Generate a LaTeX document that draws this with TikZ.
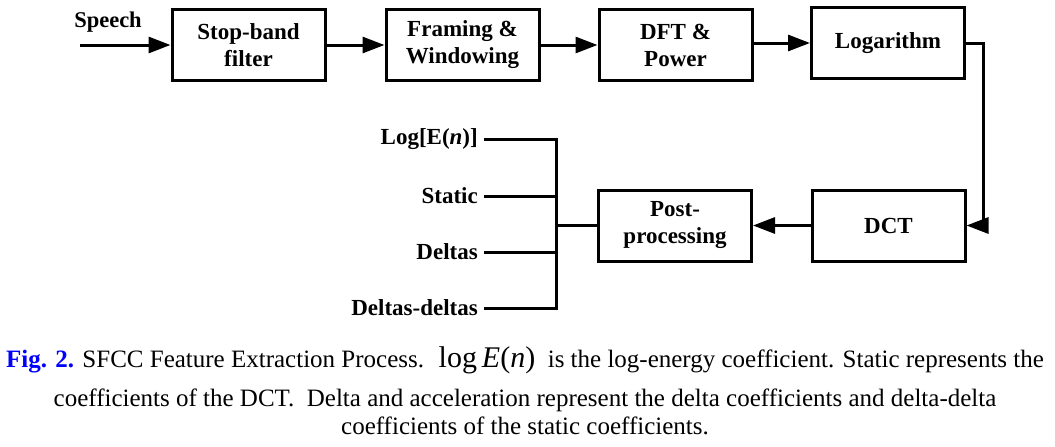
\documentclass[tikz,border=0pt]{standalone}
\usepackage{fontspec}
\setmainfont{Liberation Serif}
\usetikzlibrary{arrows.meta}
\definecolor{figblue}{RGB}{0,0,255}
\tikzset{
  blk/.style={draw, line width=3pt, minimum width=153pt, minimum height=71pt, align=center,
              font=\fontsize{23}{27}\selectfont\bfseries, inner sep=0pt},
  wire/.style={line width=3pt, line join=miter},
  arr/.style={wire, -{Triangle[length=22pt,width=16pt]}},
  lab/.style={font=\fontsize{23}{27}\selectfont\bfseries, inner sep=0pt, anchor=east},
  captext/.style={font=\fontsize{25}{30}\selectfont, inner sep=0pt, anchor=base}
}
\begin{document}
\begin{tikzpicture}[x=1pt,y=-1pt]
\useasboundingbox (0,0) rectangle (1055,447);
% top row
\node[blk] (sbf) at (248.5,45) {Stop-band\\filter};
\node[blk] (fw)  at (462.5,45) {Framing \&\\Windowing};
\node[blk] (dft) at (675.5,45) {DFT \&\\Power};
\node[blk] (lg)  at (888,43)   {Logarithm};
% bottom row
\node[blk] (dct) at (888.5,225.5) {DCT};
\node[blk] (pp)  at (675,225.5)   {Post-\\processing};
% input
\node[font=\fontsize{22.5}{27}\selectfont\bfseries, inner sep=0pt] (speech) at (108,22) {Speech};
\coordinate (in) at (80,45);
\draw[arr] (in) -- (sbf.west);
\draw[arr] (sbf.east) -- (fw.west);
\draw[arr] (fw.east) -- (dft.west);
\draw[arr] (dft.east |- lg.west) -- (lg.west);
\coordinate (turn) at (983,225.5);
\draw[arr] (lg.east) -| (turn) -- (dct.east);
\draw[arr] (dct.west) -- (pp.east);
% outputs
\node[lab] (l1) at (478,139) {Log[E(\textit{n})]};
\node[lab] (l2) at (478,196) {Static};
\node[lab] (l3) at (478,252) {Deltas};
\node[lab] (l4) at (478,308) {Deltas-deltas};
\coordinate (bus) at (556,225.5);
\draw[wire] (pp.west) -- (bus);
\draw[wire] ([xshift=6pt]l1.east) -- (l1.east -| bus) -- (l4.east -| bus) -- ([xshift=6pt]l4.east);
\draw[wire] ([xshift=6pt]l2.east) -- (l2.east -| bus);
\draw[wire] ([xshift=6pt]l3.east) -- (l3.east -| bus);
% caption
\node[captext] (c1) at (525,367) {\textcolor{figblue}{\bfseries Fig. 2.} SFCC Feature Extraction Process. \ {\fontsize{30}{30}\selectfont log\,\textit{E}(\textit{n})} \ is the log-energy coefficient. Static represents the};
\node[captext] (c2) at (525,406) {coefficients of the DCT.\ \ Delta and acceleration represent the delta coefficients and delta-delta};
\node[captext] (c3) at (525,434) {coefficients of the static coefficients.};
\end{tikzpicture}
\end{document}
